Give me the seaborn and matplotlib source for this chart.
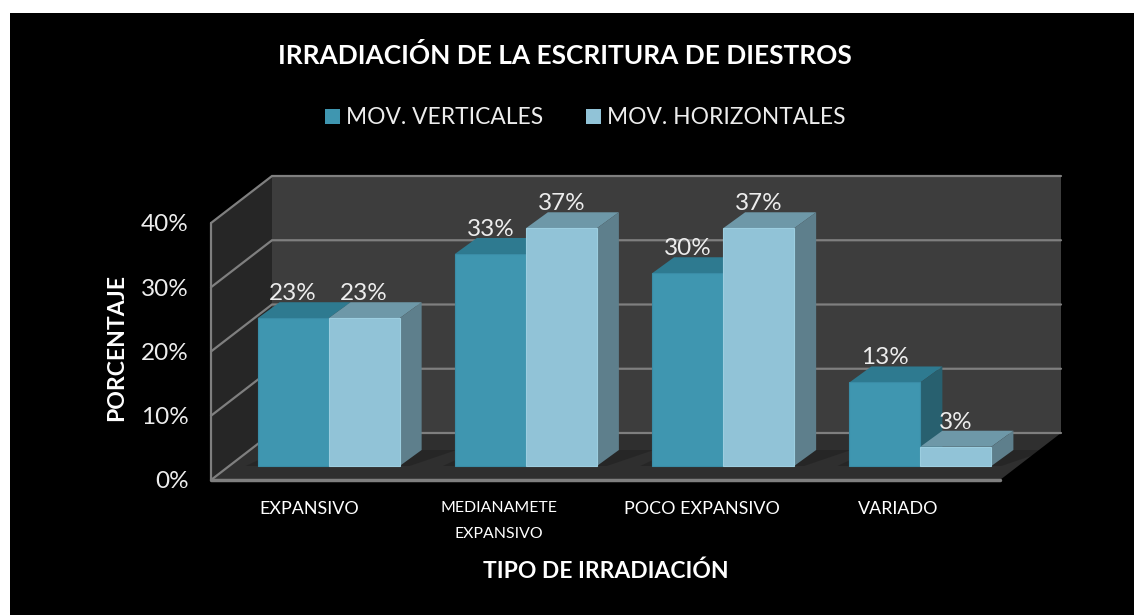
import pandas as pd
import seaborn as sns
import matplotlib.pyplot as plt
from matplotlib.colors import to_rgb
from matplotlib.patches import Polygon, Rectangle, Patch
from matplotlib.transforms import Affine2D

categories = ['EXPANSIVO', 'MEDIANAMETE\nEXPANSIVO', 'POCO EXPANSIVO', 'VARIADO']
verticales = [23, 33, 30, 13]
horizontales = [23, 37, 37, 3]
series_names = ['MOV. VERTICALES', 'MOV. HORIZONTALES']
y_ticks = [0, 10, 20, 30, 40]

W, H = 1134, 615
# front plane of the fake 3d box, in pixels
LEFT, RIGHT, BOTTOM, TOP = 211, 1000, 480, 223
PX = 4 / (RIGHT - LEFT)      # data units per pixel, x
PY = 40 / (BOTTOM - TOP)     # data units per pixel, y

colors = {'front': ['#3F96B0', '#91C3D7'],
          'edge': ['#3A8CA6', '#9CCEE0'],
          'top': ['#2E7A90', '#6E98A8'],
          'side': ['#28606F', '#5E7F8C']}

df = pd.DataFrame({'cat': categories * 2,
                   'val': verticales + horizontales,
                   'serie': [series_names[0]] * 4 + [series_names[1]] * 4})

sns.set_theme(style='white')
plt.rcParams['font.family'] = ['Lato', 'DejaVu Sans']

fig = plt.figure(figsize=(W / 100, H / 100), dpi=100, facecolor='white')
fig.patches.append(Rectangle((10 / W, 0), 1124 / W, 1 - 13 / H, transform=fig.transFigure,
                             facecolor='black', edgecolor='none', zorder=-10))
ax = fig.add_axes([LEFT / W, 1 - BOTTOM / H, (RIGHT - LEFT) / W, (BOTTOM - TOP) / H])
ax.patch.set_alpha(0)

sns.barplot(data=df, x='cat', y='val', hue='serie', order=categories, hue_order=series_names,
            palette=colors['front'], width=0.72, gap=0, saturation=1, ax=ax, legend=False)
ax.set_xlim(-0.5, 3.5)
ax.set_ylim(0, 40)
bars = sorted(ax.patches, key=lambda p: p.get_x())

# walls and floor
dx, dy = 61 * PX, 47 * PY
x0, x1 = -0.5, 3.5
ax.add_patch(Polygon([(x0, 0), (x0 + dx, dy), (x0 + dx, 40 + dy), (x0, 40)],
                     facecolor='#262626', edgecolor='none', zorder=0.1, clip_on=False))
ax.add_patch(Rectangle((x0 + dx, dy), x1 - x0, 40, facecolor='#3D3D3D', edgecolor='none',
                       zorder=0.1, clip_on=False))
ax.add_patch(Polygon([(x0, 0), (x1, 0), (x1 + dx, dy), (x0 + dx, dy)],
                     facecolor='#2F2F2F', edgecolor='none', zorder=0.2, clip_on=False))
for t in y_ticks:
    ax.plot([x0, x0 + dx, x1 + dx], [t, t + dy, t + dy], color='#7F7F7F', lw=1.6,
            zorder=0.3, clip_on=False, solid_joinstyle='miter')
ax.plot([x0, x0], [0, 40], color='#7F7F7F', lw=1.6, zorder=0.4, clip_on=False)
ax.plot([x0, x1], [0, 0], color='#7F7F7F', lw=2.5, zorder=0.4, clip_on=False)

# bars sit in the middle of the box depth
shift_x, shift_y = 19 * PX, 14 * PY
side_x, side_y = 22 * PX, 16 * PY
z = 1
for bar in bars:
    c = 0 if bar.get_facecolor()[:3] == to_rgb(colors['front'][0]) else 1
    bar.set_x(bar.get_x() + shift_x)
    bar.set_y(shift_y)
    bar.set_zorder(z + 0.2)
    bar.set_clip_on(False)
    bar.set_edgecolor(colors['edge'][c])
    bar.set_linewidth(0.8)
    xa, xb = bar.get_x(), bar.get_x() + bar.get_width()
    ya, yb = shift_y, shift_y + bar.get_height()
    # soft shadow on the floor
    ax.add_patch(Polygon([(xa - 12 * PX, ya), (xb + 10 * PX, ya), (xb + side_x + 35 * PX, ya + side_y),
                          (xa + side_x, ya + side_y)],
                         facecolor='black', alpha=0.18, edgecolor='none', zorder=0.25, clip_on=False))
    ax.add_patch(Polygon([(xa, yb), (xb, yb), (xb + side_x, yb + side_y), (xa + side_x, yb + side_y)],
                         facecolor=colors['top'][c], edgecolor='none', zorder=z, clip_on=False))
    ax.add_patch(Polygon([(xb, ya), (xb + side_x, ya + side_y), (xb + side_x, yb + side_y), (xb, yb)],
                         facecolor=colors['side'][c], edgecolor='none', zorder=z + 0.1, clip_on=False))
    ax.text((xa + xb) / 2, yb + 14 * PY, f'{bar.get_height():.0f}%', ha='center', va='bottom',
            color='#EDEDED', fontsize=17.5, zorder=50, clip_on=False)
    z += 1

for s in ax.spines.values():
    s.set_visible(False)
ax.set_xticks(range(4))
ax.set_xticklabels(categories, fontsize=12.9, color='white', linespacing=2.1)
ax.set_yticks(y_ticks)
ax.set_yticklabels([f'{t}%' for t in y_ticks], fontsize=17.5, color='#EDEDED')
ax.tick_params(axis='both', length=0)
ax.tick_params(axis='y', pad=16)
ax.tick_params(axis='x', pad=15)
for label, off in zip(ax.get_xticklabels(), [0, -8, -2, -3]):
    label.set_transform(label.get_transform() + Affine2D().translate(off, 0))
ax.get_xticklabels()[1].set_fontsize(11.4)
ax.set_xlabel('TIPO DE IRRADIACIÓN', fontsize=16.5, fontweight='bold', color='white', labelpad=14)
ax.set_ylabel('PORCENTAJE', fontsize=16.6, fontweight='bold', color='white', labelpad=10, y=0.515)

fig.text(565 / W, 1 - 56 / H, 'IRRADIACIÓN DE LA ESCRITURA DE DIESTROS', ha='center', va='center',
         fontsize=18.9, fontweight='bold', color='white')

handles = [Patch(facecolor=colors['front'][i], edgecolor='none', label=series_names[i]) for i in range(2)]
fig.legend(handles=handles, ncol=2, loc='center', bbox_to_anchor=(585 / W, 1 - 118 / H), frameon=False,
           fontsize=16.4, labelcolor='#EDEDED', handlelength=0.68, handleheight=0.68, handletextpad=0.25,
           columnspacing=1.87)

fig.savefig('out.png', dpi=100, facecolor=fig.get_facecolor())
